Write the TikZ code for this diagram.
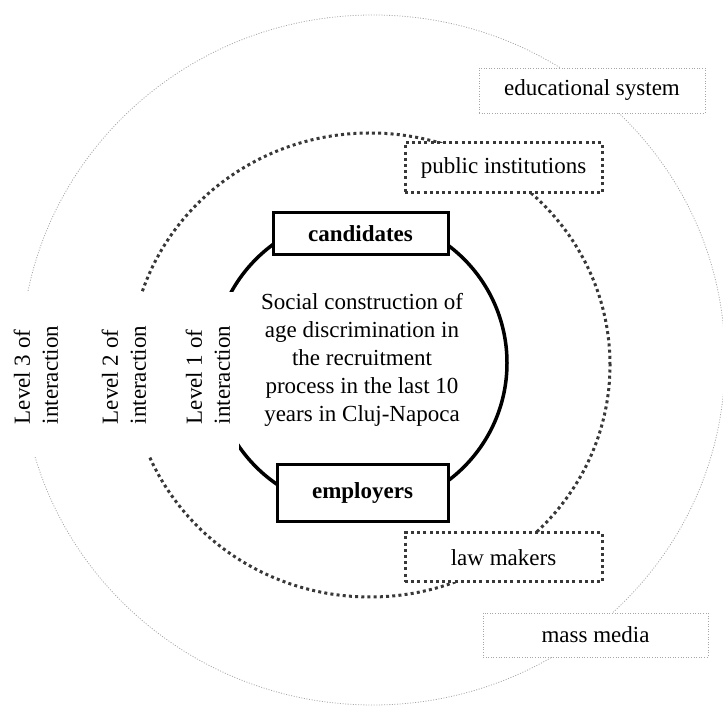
\documentclass[tikz,border=0pt]{standalone}
\usepackage{fontspec}
\setmainfont{Liberation Serif}
\begin{document}
\begin{tikzpicture}[x=1pt,y=1pt,
  txt/.style={font=\fontsize{23}{28}\selectfont},
  lightdot/.style={draw=black!35, line width=0.8pt, dash pattern=on 1pt off 1.6pt},
  darkdot/.style={draw=black!78, line width=3pt, dash pattern=on 3pt off 3.2pt},
  lightbox/.style={lightdot, fill=white, txt, inner sep=0pt},
  darkbox/.style={darkdot, fill=white, txt, inner sep=0pt},
  solidbox/.style={draw=black, line width=3pt, fill=white, txt, font=\fontsize{23}{28}\selectfont\bfseries, inner sep=0pt},
  levelbox/.style={fill=white, txt, rotate=90, align=left, minimum width=165pt, minimum height=62pt, inner sep=0pt}]
\useasboundingbox (0,0) rectangle (723,706);
% outer level 3
\draw[lightdot] (373,346) ellipse [x radius=352, y radius=345];
% middle level 2
\draw[darkdot] (370,341) ellipse [x radius=240, y radius=232];
% inner level 1
\draw[black, line width=3.5pt] (360,343) circle [radius=147];

\node[txt, align=center] (core) at (362,346) {Social construction of\\age discrimination in\\the recruitment\\process in the last 10\\years in Cluj-Napoca};

\node[solidbox, minimum width=175pt, minimum height=42pt] (cand) at (360.5,472) {candidates};
\node[solidbox, minimum width=171pt, minimum height=57pt] (empl) at (362.5,212.5) {employers};

\node[darkbox, minimum width=197pt, minimum height=50pt] (pub) at (503.5,538) {public institutions};
\node[darkbox, minimum width=197pt, minimum height=49pt] (law) at (503.5,148.5) {law makers};

\node[lightbox, minimum width=226pt, minimum height=45pt] (edu) at (592,615.5) {educational system};
\node[lightbox, minimum width=225pt, minimum height=44pt] (mass) at (595.5,71) {mass media};

\node[levelbox] (l3) at (36,331) {Level 3 of\\interaction};
\node[levelbox] (l2) at (124,331) {Level 2 of\\interaction};
\node[levelbox] (l1) at (208,331) {Level 1 of\\interaction};
\end{tikzpicture}
\end{document}
